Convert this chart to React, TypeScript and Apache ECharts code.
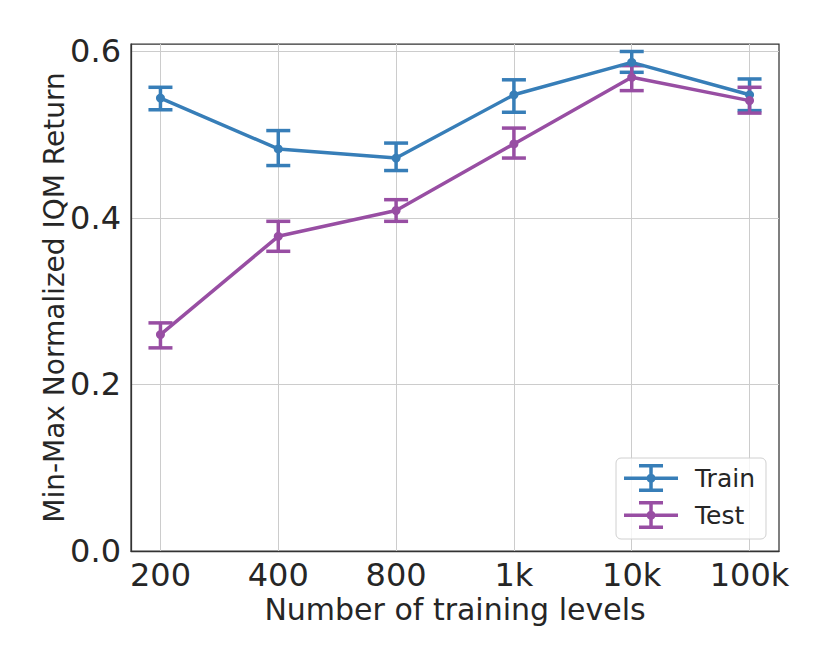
import React, { useEffect, useRef } from "react";
import * as echarts from "echarts";

const categories = ["200", "400", "800", "1k", "10k", "100k"];
const yTicks = [0, 0.2, 0.4, 0.6];
const trainMean = [0.544, 0.483, 0.472, 0.548, 0.587, 0.548];
const trainLow = [0.530, 0.463, 0.457, 0.527, 0.575, 0.529];
const trainHigh = [0.557, 0.505, 0.490, 0.566, 0.600, 0.567];
const testMean = [0.260, 0.378, 0.409, 0.489, 0.569, 0.541];
const testLow = [0.244, 0.360, 0.396, 0.472, 0.553, 0.526];
const testHigh = [0.274, 0.396, 0.422, 0.508, 0.583, 0.557];

const TRAIN = "#377eb8";
const TEST = "#984ea3";
const TEXT = "#262626";
const FONT = "DejaVu Sans";

const ICON =
  "path://M0 12.5 h54 v3.5 h-54 z M25.25 0 h3.5 v28 h-3.5 z M15 0 h24 v3.5 h-24 z M15 24.5 h24 v3.5 h-24 z M31.5 14.25 A4.5 4.5 0 1 1 22.5 14.25 A4.5 4.5 0 1 1 31.5 14.25 z";

function errSeries(name: string, color: string, low: number[], high: number[]) {
  return {
    name,
    type: "custom",
    clip: false,
    encode: { x: 0, y: [1, 2] },
    data: categories.map((_, i) => [i, low[i], high[i]]),
    renderItem: (params: any, api: any) => {
      const x = api.value(0);
      const lo = api.coord([x, api.value(1)]);
      const hi = api.coord([x, api.value(2)]);
      const half = 12;
      const style = { stroke: color, lineWidth: 3.5, fill: "none" };
      return {
        type: "group",
        children: [
          { type: "line", shape: { x1: lo[0], y1: lo[1], x2: hi[0], y2: hi[1] }, style },
          { type: "line", shape: { x1: lo[0] - half, y1: lo[1], x2: lo[0] + half, y2: lo[1] }, style },
          { type: "line", shape: { x1: hi[0] - half, y1: hi[1], x2: hi[0] + half, y2: hi[1] }, style },
        ],
      };
    },
  };
}

function lineSeries(name: string, color: string, vals: number[]) {
  return {
    name,
    type: "line",
    data: vals.map((v, i) => [i, v]),
    symbol: "circle",
    symbolSize: 9,
    showSymbol: true,
    lineStyle: { color, width: 3.5 },
    itemStyle: { color },
    color,
  };
}

export default function App() {
  const ref = useRef<HTMLDivElement>(null);
  useEffect(() => {
    if (!ref.current) return;
    const chart = echarts.init(ref.current, undefined, { renderer: "svg" });
    const xIdx = categories.map((_, i) => i);
    chart.setOption({
      animation: false,
      backgroundColor: "#ffffff",
      textStyle: { fontFamily: FONT, color: TEXT },
      grid: {
        left: 131,
        right: 51,
        top: 44,
        bottom: 113,
        show: true,
        borderColor: "#333333",
        borderWidth: 1.25,
        backgroundColor: "transparent",
      },
      xAxis: {
        type: "value",
        min: -0.25,
        max: 5.25,
        name: "Number of training levels",
        nameLocation: "middle",
        nameGap: 43,
        nameMoveOverlap: false,
        nameTextStyle: { fontFamily: FONT, fontSize: 30, color: TEXT },
        axisLine: { show: true, onZero: false, lineStyle: { color: "#333333", width: 1.25 } },
        axisTick: { show: false, customValues: xIdx },
        axisLabel: {
          customValues: xIdx,
          fontFamily: FONT,
          fontSize: 32,
          color: TEXT,
          margin: 8,
          formatter: (v: number) => categories[Math.round(v)] ?? "",
        },
        splitLine: { show: true, lineStyle: { color: "#cccccc", width: 1 } },
      },
      yAxis: {
        type: "value",
        min: 0,
        max: 0.609,
        name: "Min-Max Normalized IQM Return",
        nameLocation: "middle",
        nameGap: 63,
        nameMoveOverlap: false,
        nameTextStyle: { fontFamily: FONT, fontSize: 28, color: TEXT },
        axisLine: { show: true, onZero: false, lineStyle: { color: "#333333", width: 1.25 } },
        axisTick: { show: false, customValues: yTicks },
        axisLabel: {
          customValues: yTicks,
          fontFamily: FONT,
          fontSize: 32,
          color: TEXT,
          margin: 10,
          formatter: (v: number) => v.toFixed(1),
        },
        splitLine: { show: true, lineStyle: { color: "#cccccc", width: 1 } },
      },
      legend: {
        data: ["Train", "Test"],
        orient: "vertical",
        right: 64,
        bottom: 125,
        icon: ICON,
        itemWidth: 54,
        itemHeight: 28,
        itemGap: 9,
        padding: [6, 11, 10, 8],
        backgroundColor: "rgba(255,255,255,0.8)",
        borderColor: "#d0d0d0",
        borderWidth: 1,
        borderRadius: 5,
        textStyle: { fontFamily: FONT, fontSize: 25, color: TEXT, padding: [0, 0, 0, 12] },
      },
      series: [
        lineSeries("Train", TRAIN, trainMean),
        errSeries("Train err", TRAIN, trainLow, trainHigh),
        lineSeries("Test", TEST, testMean),
        errSeries("Test err", TEST, testLow, testHigh),
      ],
    });
    return () => chart.dispose();
  }, []);
  return (
    <div
      ref={ref}
      style={{ position: "absolute", left: 0, top: 0, width: 830, height: 664 }}
    />
  );
}
